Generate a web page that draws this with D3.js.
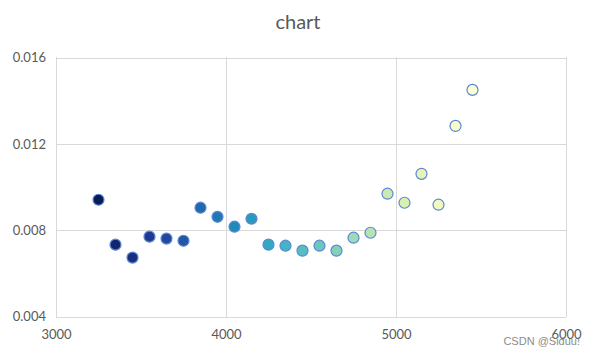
<!DOCTYPE html>
<html><head><meta charset="utf-8">
<script src="https://cdnjs.cloudflare.com/ajax/libs/d3/7.8.5/d3.min.js"></script>
<style>body{margin:0;background:#fff;}svg{display:block;}</style>
</head><body>
<script>
const xValues = [3250,3350,3450,3550,3650,3750,3850,3950,4050,4150,4250,4350,4450,4550,4650,4750,4850,4950,5050,5150,5250,5350,5450];
const yValues = [0.00941,0.00733,0.00673,0.0077,0.00761,0.00751,0.00904,0.00862,0.00816,0.00853,0.00733,0.00728,0.00705,0.00728,0.00705,0.00765,0.00788,0.00969,0.00927,0.01061,0.00918,0.01283,0.0145];
const xTicks = [3000,4000,5000,6000];
const yTicks = [0.004,0.008,0.012,0.016];
const title = "chart";
const watermark = "CSDN @Siduu!";

const W=594,H=355;
const svg=d3.select("body").append("svg").attr("width",W).attr("height",H);
const font="Lato, 'Open Sans', sans-serif";
const x=d3.scaleLinear().domain([3000,6000]).range([56,566]);
const y=d3.scaleLinear().domain([0.004,0.016]).range([316.5,57.5]);

// gridlines
svg.append("g").selectAll("line").data(yTicks).join("line")
  .attr("x1",56).attr("x2",566).attr("y1",d=>Math.round(y(d))+0.5).attr("y2",d=>Math.round(y(d))+0.5)
  .attr("stroke","#d9d9d9").attr("stroke-width",1);
svg.append("g").selectAll("line").data(xTicks).join("line")
  .attr("y1",57).attr("y2",317).attr("x1",d=>Math.round(x(d))+0.5).attr("x2",d=>Math.round(x(d))+0.5)
  .attr("stroke","#d9d9d9").attr("stroke-width",1);

// axis labels
const yAxis=d3.axisLeft(y).tickValues(yTicks).tickFormat(d3.format(".3f")).tickSize(0).tickPadding(10);
const gy=svg.append("g").attr("transform","translate(56,0)").call(yAxis);
gy.select(".domain").remove();
gy.selectAll("text").attr("font-family",font).attr("font-size",13).attr("fill","#595959");
const xAxis=d3.axisBottom(x).tickValues(xTicks).tickFormat(d3.format("d")).tickSize(0).tickPadding(13);
const gx=svg.append("g").attr("transform","translate(0,317)").call(xAxis);
gx.select(".domain").remove();
gx.selectAll("text").attr("font-family",font).attr("font-size",13).attr("fill","#595959");

// title
svg.append("text").attr("x",298).attr("y",29).attr("text-anchor","middle")
  .attr("font-family",font).attr("font-size",20).attr("fill","#595959").text(title);

// points
const n=xValues.length;
const col=i=>d3.interpolateYlGnBu(1-i/(n-1)*0.995);
svg.append("g").selectAll("circle").data(xValues).join("circle")
  .attr("cx",d=>x(d)).attr("cy",(d,i)=>y(yValues[i])).attr("r",5.5)
  .attr("fill",(d,i)=>col(i)).attr("stroke","#5b87d4").attr("stroke-width",1.2);

// watermark
svg.append("text").attr("x",580).attr("y",345).attr("text-anchor","end")
  .attr("font-family","'Liberation Sans', Arial, sans-serif").attr("font-size",11).attr("fill","#8c8c8c").text(watermark);
</script>
</body></html>
